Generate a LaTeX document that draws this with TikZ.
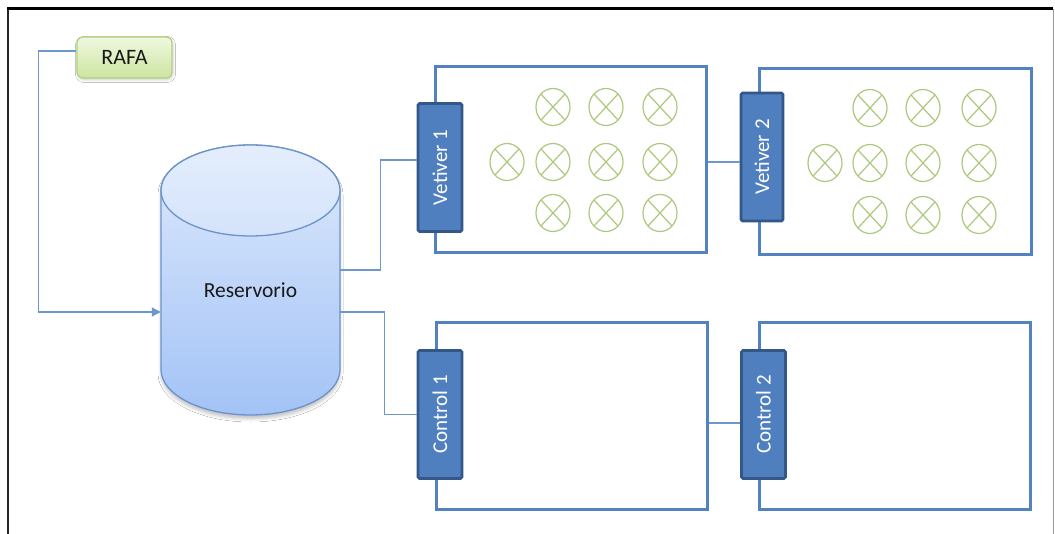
\documentclass[tikz,border=0pt]{standalone}
\usepackage{fontspec}
\setmainfont{Carlito}
\usetikzlibrary{arrows.meta,shadows.blur,calc}

\definecolor{bedblue}{HTML}{5283C0}
\definecolor{barfill}{HTML}{4F7FBE}
\definecolor{bardark}{HTML}{34578A}
\definecolor{linkblue}{HTML}{6F97CF}
\definecolor{plantgreen}{HTML}{ABC97C}
\definecolor{tanktop}{HTML}{DDE9FC}
\definecolor{tankbottom}{HTML}{A3C3F6}
\definecolor{tankedge}{HTML}{6B93C9}
\definecolor{rafatop}{HTML}{F0F8E0}
\definecolor{rafabottom}{HTML}{CCE5A0}
\definecolor{rafaedge}{HTML}{B2D17C}

\tikzset{
  bed/.style={draw=bedblue, line width=3pt, rectangle, inner sep=0pt,
    minimum width=271pt, minimum height=186pt},
  bar/.style={draw=bardark, fill=barfill, line width=2.6pt, rounded corners=1.5pt,
    inner sep=0pt, minimum width=44pt, minimum height=128pt,
    text=white, font=\fontsize{21}{25}\selectfont},
  link/.style={draw=linkblue, line width=1.3pt},
  plantline/.style={draw=plantgreen, line width=1.2pt},
  plant/.pic={
    \draw[plantline] (0,0) ellipse [x radius=17pt, y radius=18.5pt];
    \draw[plantline] (-12,-13) -- (12,13) (-12,13) -- (12,-13);
  }
}

\begin{document}
\begin{tikzpicture}[x=1pt, y=-1pt]
\useasboundingbox (0,0) rectangle (1055,534);
\fill[white] (0,0) rectangle (1055,534);

% page frame
\draw[black!85, line width=2pt] (8,534) -- (8,9);
\draw[black, line width=3pt] (7,9) -- (1053,9);
\draw[black!40, line width=1pt] (1053,9) -- (1053,534);

% reservoir tank
\shade[top color=tanktop, bottom color=tankbottom, draw=tankedge, line width=1.3pt,
  blur shadow={shadow xshift=0pt, shadow yshift=-4pt, shadow blur radius=3pt, shadow opacity=22}]
  (161,190.5) -- (161,369.5)
  arc[start angle=180, end angle=360, x radius=89.5pt, y radius=45.5pt]
  -- (340,190.5)
  arc[start angle=0, end angle=180, x radius=89.5pt, y radius=45.5pt] -- cycle;
\shade[top color=tanktop!80!white, bottom color=tanktop!85!tankbottom, draw=tankedge, line width=1.3pt]
  (250.5,190.5) ellipse [x radius=89.5pt, y radius=45.5pt];
\node[inner sep=0pt, minimum width=179pt, minimum height=270pt] (res) at (250.5,280) {};
\node[font=\fontsize{21.5}{25}\selectfont, text=black!90] (reslabel) at (250.5,290) {Reservorio};

% inflow source
\node[draw=rafaedge, line width=1.2pt, rounded corners=6pt,
  top color=rafatop, bottom color=rafabottom, minimum width=95pt, minimum height=41pt,
  inner sep=0pt, font=\fontsize{22}{26}\selectfont, text=black!90,
  blur shadow={shadow xshift=1pt, shadow yshift=-2pt, shadow blur radius=2.5pt, shadow opacity=18}]
  (rafa) at (124.5,57.5) {RAFA};

% beds
\node[bed] (vet1bed) at (571,160) {};
\node[bed, minimum width=272pt] (vet2bed) at (895,162) {};
\node[bed] (ctl1bed) at (571.5,416) {};
\node[bed] (ctl2bed) at (894.5,416) {};

% plants in the vetiver beds
\foreach \px/\py in {553/107, 606/107, 660/107, 507/162, 553/162, 606/162, 660/162, 553/213, 606/213, 660/213}
  \pic at (\px,\py) {plant};
\foreach \px/\py in {870/108, 923/108, 979/108, 825/163, 870/163, 923/163, 979/163, 870/215, 923/215, 979/215}
  \pic at (\px,\py) {plant};

% inlet bars
\node[bar] (vet1) at (440,167.5) {\rotatebox{90}{Vetiver 1}};
\node[bar, minimum width=42pt] (vet2) at (762,157) {\rotatebox{90}{Vetiver 2}};
\node[bar] (ctl1) at (440,414.5) {\rotatebox{90}{Control 1}};
\node[bar] (ctl2) at (763.5,414.5) {\rotatebox{90}{Control 2}};

% connector end points
\coordinate (resin) at ([yshift=-32pt]res.west);
\coordinate (resoutv) at ([yshift=10pt]res.east);
\coordinate (resoutc) at ([yshift=-32pt]res.east);
\coordinate (vet1out) at ([yshift=-2pt]vet1bed.east);
\coordinate (ctl1out) at ([yshift=-7pt]ctl1bed.east);

% connectors
\draw[link, -{Triangle[length=9pt, width=9pt]}]
  ([yshift=6.5pt]rafa.west) -- ++(-38,0) |- (resin);
\draw[link] (resoutv) -- ++(40,0) |- ([yshift=7.5pt]vet1.west);
\draw[link] (resoutc) -- ++(44,0) |- (ctl1.west);
\draw[link] (vet1out) -- (vet2.west |- vet1out);
\draw[link] (ctl1out) -- (ctl2.west |- ctl1out);
\end{tikzpicture}
\end{document}
